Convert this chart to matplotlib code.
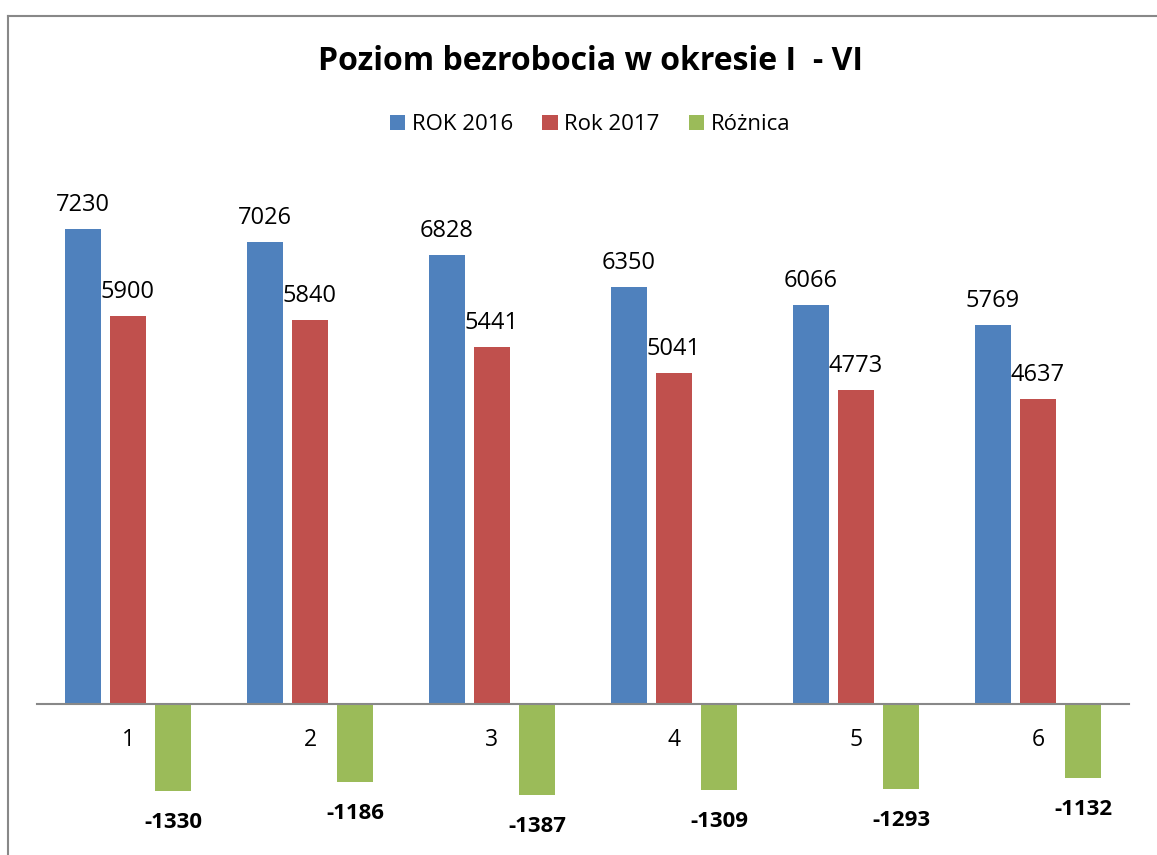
import matplotlib.pyplot as plt
from matplotlib.lines import Line2D
import numpy as np

plt.rcParams['font.family'] = ['Open Sans', 'DejaVu Sans']

miesiace = ["1", "2", "3", "4", "5", "6"]
rok_2016 = [7230, 7026, 6828, 6350, 6066, 5769]
rok_2017 = [5900, 5840, 5441, 5041, 4773, 4637]
roznica = [-1330, -1186, -1387, -1309, -1293, -1132]

KOLORY = ["#4F81BD", "#C0504D", "#9BBB59"]
W, H = 1157, 855


def main():
    fig = plt.figure(figsize=(W / 100, H / 100), dpi=100)
    ax = fig.add_axes([37 / W, (H - 835.4) / H, 1092 / W, 657 / H])

    x = np.arange(len(miesiace))
    szer = 0.198
    krok = 0.247
    serie = [("ROK 2016", rok_2016), ("Rok 2017", rok_2017), ("Różnica", roznica)]
    for i, (nazwa, wartosci) in enumerate(serie):
        pozycje = x + (i - 1) * krok
        ax.bar(pozycje, wartosci, width=szer, color=KOLORY[i], label=nazwa)
        for px, v in zip(pozycje, wartosci):
            if v >= 0:
                ax.annotate(str(v), (px, v), xytext=(0, 18), textcoords="offset pixels",
                            ha="center", va="baseline", fontsize=17)
            else:
                ax.annotate(str(v), (px, v), xytext=(0, -37), textcoords="offset pixels",
                            ha="center", va="baseline", fontsize=16, fontweight="bold")

    ax.set_xlim(-0.5, len(miesiace) - 0.5)
    ax.set_ylim(-2000, 8000)
    ax.set_yticks([])
    ax.set_xticks(x, miesiace)
    ax.tick_params(axis="x", length=0, pad=17, labelsize=16.5)
    for s in ["top", "right", "left"]:
        ax.spines[s].set_visible(False)
    ax.spines["bottom"].set_position(("data", 0))
    ax.spines["bottom"].set_color("#888888")
    ax.spines["bottom"].set_linewidth(1.5)

    fig.text(590 / W, 1 - 62 / H, "Poziom bezrobocia w okresie I  - VI",
             ha="center", va="center", fontsize=23, fontweight="bold")
    fig.legend(loc="center", bbox_to_anchor=(590 / W, 1 - 125 / H), ncol=3,
               frameon=False, fontsize=16, handlelength=0.7, handleheight=0.7,
               handletextpad=0.3, columnspacing=1.3)

    # ramka obszaru wykresu
    fig.add_artist(Line2D([7.5 / W, 7.5 / W], [0, 1 - 16 / H], color="#888888", lw=1.5))
    fig.add_artist(Line2D([7.5 / W, 1], [1 - 16 / H, 1 - 16 / H], color="#888888", lw=1.5))

    fig.savefig("out.png", dpi=100)


if __name__ == "__main__":
    main()
